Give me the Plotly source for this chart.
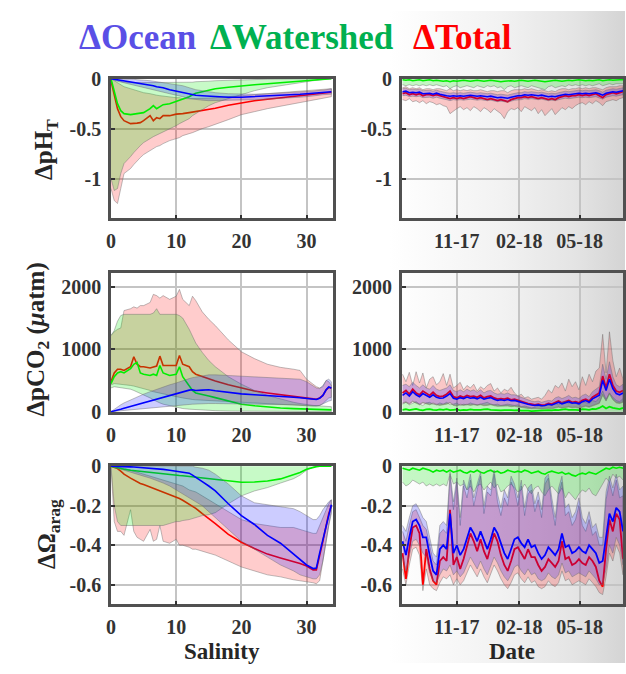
import base64
import pandas as pd
import plotly.graph_objects as go

# ---------------- salinity-binned composites (left column) ----------------
SAL = [0, 0.5, 1, 1.5, 2, 3, 3.5, 4, 4.5, 5, 6, 6.5, 7, 7.5, 8, 9, 10, 10.5, 11, 12,
       12.5, 13, 14, 15, 16, 18, 20, 22, 24, 26, 28, 29, 30, 31, 31.5, 32, 32.5, 33, 33.4, 33.8]

PH_OCEAN = [0, -0.005, -0.01, -0.015, -0.02, -0.03, -0.035, -0.04, -0.045, -0.05, -0.06, -0.07, -0.08, -0.085,
            -0.09, -0.11, -0.125, -0.125, -0.135, -0.15, -0.16, -0.165, -0.17, -0.175, -0.18, -0.185, -0.185,
            -0.18, -0.175, -0.17, -0.16, -0.155, -0.15, -0.145, -0.14, -0.14, -0.135, -0.135, -0.13, -0.13]
PH_OCEAN_HI = [0, 0, 0, 0, 0, -0.005, -0.005, -0.01, -0.01, -0.015, -0.02, -0.025, -0.03, -0.035, -0.04, -0.05,
               -0.06, -0.065, -0.07, -0.09, -0.1, -0.11, -0.12, -0.13, -0.14, -0.15, -0.155, -0.155, -0.15,
               -0.145, -0.14, -0.135, -0.13, -0.125, -0.12, -0.12, -0.115, -0.11, -0.105, -0.1]
PH_OCEAN_LO = [0, -0.015, -0.025, -0.035, -0.045, -0.06, -0.065, -0.075, -0.08, -0.09, -0.1, -0.11, -0.12, -0.13,
               -0.135, -0.15, -0.165, -0.17, -0.18, -0.2, -0.205, -0.21, -0.215, -0.22, -0.22, -0.22, -0.215,
               -0.21, -0.205, -0.2, -0.19, -0.185, -0.18, -0.175, -0.17, -0.165, -0.16, -0.16, -0.155, -0.155]
PH_WS = [0, -0.12, -0.25, -0.32, -0.35, -0.36, -0.355, -0.35, -0.345, -0.34, -0.3, -0.27, -0.3, -0.28, -0.26,
         -0.25, -0.225, -0.22, -0.2, -0.18, -0.16, -0.145, -0.13, -0.115, -0.1, -0.085, -0.07, -0.06, -0.05,
         -0.04, -0.03, -0.02, -0.015, -0.01, -0.008, -0.005, -0.003, -0.002, 0, 0]
PH_WS_HI = [0, -0.01, -0.02, -0.03, -0.035, -0.04, -0.04, -0.04, -0.04, -0.04, -0.04, -0.04, -0.04, -0.04,
            -0.04, -0.04, -0.04, -0.04, -0.04, -0.035, -0.035, -0.03, -0.03, -0.025, -0.02, -0.015, -0.01,
            -0.008, -0.005, -0.003, 0, 0, 0, 0, 0, 0, 0, 0, 0, 0]
PH_WS_LO = [-1.0, -1.12, -1.1, -0.95, -0.85, -0.78, -0.74, -0.7, -0.67, -0.64, -0.6, -0.58, -0.56, -0.55,
            -0.53, -0.5, -0.47, -0.45, -0.43, -0.4, -0.37, -0.35, -0.31, -0.27, -0.24, -0.2, -0.16, -0.12,
            -0.09, -0.07, -0.05, -0.04, -0.03, -0.02, -0.015, -0.01, -0.008, -0.005, -0.003, 0]
PH_TOT = [-0.02, -0.15, -0.3, -0.38, -0.42, -0.45, -0.45, -0.445, -0.44, -0.42, -0.37, -0.42, -0.39, -0.4,
          -0.37, -0.37, -0.355, -0.355, -0.35, -0.34, -0.335, -0.33, -0.32, -0.31, -0.295, -0.265, -0.24,
          -0.22, -0.205, -0.19, -0.175, -0.165, -0.16, -0.155, -0.15, -0.145, -0.145, -0.14, -0.135, -0.135]
PH_TOT_HI = [0, -0.02, -0.04, -0.06, -0.08, -0.1, -0.11, -0.12, -0.13, -0.14, -0.15, -0.16, -0.165, -0.17,
             -0.175, -0.18, -0.19, -0.19, -0.2, -0.2, -0.2, -0.2, -0.2, -0.195, -0.19, -0.18, -0.17, -0.16,
             -0.15, -0.14, -0.13, -0.125, -0.12, -0.115, -0.11, -0.11, -0.105, -0.1, -0.1, -0.1]
PH_TOT_LO = [-1.1, -1.22, -1.25, -1.1, -0.95, -0.9, -0.86, -0.82, -0.79, -0.76, -0.72, -0.7, -0.68, -0.67,
             -0.65, -0.62, -0.6, -0.59, -0.57, -0.55, -0.54, -0.53, -0.5, -0.48, -0.46, -0.41, -0.36, -0.33,
             -0.3, -0.27, -0.245, -0.235, -0.22, -0.21, -0.205, -0.2, -0.195, -0.19, -0.185, -0.18]

PCO2_OCEAN = [0, 10, 25, 40, 55, 85, 100, 115, 130, 145, 175, 190, 205, 220, 235, 265, 290, 305, 320, 345,
              350, 340, 345, 350, 335, 305, 285, 270, 260, 245, 230, 222, 210, 198, 195, 215, 260, 350, 395, 380]
PCO2_OCEAN_HI = [0, 40, 80, 110, 140, 190, 215, 240, 260, 280, 320, 340, 360, 380, 400, 430, 460, 480, 500,
                 530, 545, 555, 575, 590, 590, 580, 570, 560, 550, 540, 530, 520, 480, 420, 380, 370, 420,
                 500, 520, 480]
PCO2_OCEAN_LO = [0, 0, 5, 10, 15, 25, 30, 35, 40, 45, 55, 60, 65, 70, 75, 85, 95, 100, 105, 115, 120, 125,
                 130, 130, 130, 130, 130, 125, 120, 115, 110, 105, 100, 95, 90, 100, 120, 150, 170, 180]
PCO2_WS = [450, 560, 620, 640, 620, 690, 760, 790, 620, 600, 580, 600, 580, 740, 620, 580, 600, 720, 560,
           420, 340, 300, 270, 250, 225, 170, 120, 95, 72, 58, 48, 44, 40, 36, 34, 32, 30, 28, 28, 28]
PCO2_WS_HI = [1220, 1300, 1450, 1540, 1560, 1560, 1560, 1570, 1560, 1560, 1560, 1580, 1650, 1560, 1560,
              1560, 1560, 1540, 1500, 1320, 1200, 1100, 950, 820, 720, 560, 440, 340, 260, 200, 150, 130,
              110, 100, 95, 90, 85, 80, 80, 80]
PCO2_WS_LO = [380, 400, 400, 390, 380, 360, 340, 320, 300, 270, 220, 190, 160, 140, 120, 90, 70, 60, 50, 40,
              35, 30, 25, 20, 16, 10, 6, 4, 2, 0, 0, 0, 0, 0, 0, 0, 0, 0, 0, 0]
PCO2_TOT = [480, 620, 680, 680, 660, 720, 880, 760, 720, 720, 700, 720, 730, 890, 740, 740, 740, 900, 760,
            720, 640, 600, 560, 520, 490, 430, 380, 330, 300, 270, 240, 230, 215, 205, 200, 220, 260, 350,
            390, 375]
PCO2_TOT_HI = [1220, 1280, 1320, 1340, 1620, 1650, 1680, 1660, 1700, 1700, 1750, 1880, 1860, 1820, 1860,
               1800, 1850, 1960, 1800, 1700, 1850, 1780, 1600, 1480, 1380, 1150, 960, 850, 760, 710, 680,
               660, 520, 440, 400, 380, 400, 500, 480, 420]
PCO2_TOT_LO = [430, 450, 450, 440, 430, 420, 410, 400, 390, 370, 340, 320, 300, 290, 280, 260, 240, 230,
               220, 200, 195, 190, 180, 170, 165, 155, 145, 135, 125, 115, 105, 100, 95, 90, 90, 100, 130,
               180, 220, 230]

OM_OCEAN = [0, 0, 0, -0.001, -0.002, -0.003, -0.004, -0.005, -0.006, -0.007, -0.009, -0.01, -0.012, -0.014,
            -0.016, -0.02, -0.025, -0.028, -0.03, -0.035, -0.045, -0.055, -0.078, -0.1, -0.125, -0.19, -0.25,
            -0.295, -0.35, -0.39, -0.445, -0.475, -0.5, -0.518, -0.515, -0.44, -0.37, -0.3, -0.24, -0.195]
OM_OCEAN_HI = [0, 0, 0, 0, 0, 0, 0, 0, 0, 0, 0, 0, 0, 0, 0, 0, 0, 0, 0, 0, 0, -0.005, -0.01, -0.02, -0.04,
               -0.09, -0.15, -0.185, -0.195, -0.205, -0.215, -0.23, -0.25, -0.27, -0.27, -0.25, -0.22, -0.2,
               -0.18, -0.17]
OM_OCEAN_LO = [0, -0.005, -0.01, -0.015, -0.02, -0.03, -0.035, -0.04, -0.045, -0.05, -0.06, -0.065, -0.07,
               -0.078, -0.085, -0.1, -0.12, -0.13, -0.14, -0.16, -0.17, -0.18, -0.2, -0.23, -0.26, -0.32,
               -0.38, -0.42, -0.46, -0.5, -0.53, -0.55, -0.56, -0.57, -0.57, -0.55, -0.48, -0.38, -0.3, -0.24]
OM_WS = [0, -0.004, -0.008, -0.012, -0.015, -0.02, -0.022, -0.024, -0.026, -0.028, -0.03, -0.032, -0.034,
         -0.036, -0.038, -0.042, -0.045, -0.047, -0.048, -0.052, -0.054, -0.056, -0.06, -0.064, -0.068, -0.075,
         -0.081, -0.08, -0.075, -0.064, -0.045, -0.032, -0.015, -0.004, -0.002, 0, 0, 0, 0, 0]
OM_WS_LO = [0, -0.2, -0.28, -0.3, -0.3, -0.3, -0.3, -0.3, -0.3, -0.3, -0.3, -0.3, -0.3, -0.3, -0.3, -0.29,
            -0.28, -0.28, -0.275, -0.27, -0.265, -0.26, -0.25, -0.245, -0.235, -0.19, -0.15, -0.125, -0.108,
            -0.085, -0.063, -0.045, -0.02, -0.005, 0, 0, 0, 0, 0, 0]
OM_TOT = [0, -0.005, -0.012, -0.025, -0.04, -0.06, -0.07, -0.08, -0.087, -0.093, -0.106, -0.112, -0.118,
          -0.124, -0.13, -0.142, -0.155, -0.163, -0.172, -0.193, -0.203, -0.213, -0.24, -0.265, -0.29, -0.345,
          -0.385, -0.417, -0.445, -0.465, -0.483, -0.493, -0.505, -0.525, -0.525, -0.46, -0.38, -0.3, -0.24, -0.2]
OM_TOT_HI = [0, 0, -0.005, -0.008, -0.01, -0.02, -0.025, -0.03, -0.035, -0.04, -0.05, -0.055, -0.06, -0.065,
             -0.07, -0.08, -0.09, -0.095, -0.1, -0.12, -0.125, -0.13, -0.15, -0.17, -0.19, -0.23, -0.27, -0.29,
             -0.3, -0.31, -0.31, -0.32, -0.33, -0.34, -0.34, -0.3, -0.26, -0.22, -0.19, -0.17]
OM_TOT_LO = [0, -0.28, -0.33, -0.33, -0.35, -0.22, -0.33, -0.36, -0.37, -0.38, -0.32, -0.38, -0.37, -0.3,
             -0.38, -0.39, -0.37, -0.4, -0.4, -0.41, -0.42, -0.42, -0.43, -0.44, -0.45, -0.48, -0.51, -0.53,
             -0.55, -0.56, -0.575, -0.58, -0.585, -0.59, -0.595, -0.58, -0.5, -0.38, -0.3, -0.22]

# ---------------- time series (right column), 5-day steps ----------------
DATES = pd.date_range("2017-08-13", periods=66, freq="5D").strftime("%Y-%m-%d").tolist()

PH_R_OCEAN = [-0.13, -0.125, -0.14, -0.135, -0.14, -0.135, -0.15, -0.145, -0.145, -0.155, -0.145,
              -0.155, -0.165, -0.17, -0.175, -0.17, -0.175, -0.17, -0.175, -0.17, -0.165, -0.17,
              -0.175, -0.17, -0.175, -0.18, -0.175, -0.18, -0.19, -0.185, -0.19, -0.195, -0.185,
              -0.175, -0.17, -0.17, -0.16, -0.165, -0.16, -0.165, -0.17, -0.165, -0.17, -0.18,
              -0.175, -0.18, -0.17, -0.16, -0.155, -0.16, -0.155, -0.15, -0.145, -0.15, -0.145,
              -0.15, -0.145, -0.14, -0.15, -0.165, -0.145, -0.135, -0.13, -0.135, -0.125, -0.12]
PH_R_OCEAN_HI = [-0.1, -0.095, -0.11, -0.105, -0.11, -0.105, -0.12, -0.115, -0.115, -0.125, -0.115,
                 -0.125, -0.135, -0.14, -0.145, -0.14, -0.145, -0.14, -0.145, -0.14, -0.135, -0.14,
                 -0.145, -0.14, -0.145, -0.15, -0.145, -0.15, -0.16, -0.155, -0.16, -0.165, -0.155,
                 -0.145, -0.14, -0.14, -0.13, -0.135, -0.13, -0.135, -0.14, -0.135, -0.14, -0.15,
                 -0.145, -0.15, -0.14, -0.13, -0.125, -0.13, -0.125, -0.12, -0.115, -0.12, -0.115,
                 -0.12, -0.115, -0.11, -0.12, -0.135, -0.115, -0.105, -0.1, -0.105, -0.095, -0.09]
PH_R_OCEAN_LO = [-0.17, -0.165, -0.18, -0.175, -0.18, -0.175, -0.19, -0.185, -0.185, -0.195, -0.185,
                 -0.195, -0.205, -0.21, -0.22, -0.21, -0.215, -0.21, -0.215, -0.21, -0.205, -0.21,
                 -0.215, -0.21, -0.215, -0.22, -0.215, -0.22, -0.23, -0.225, -0.23, -0.235, -0.225,
                 -0.215, -0.21, -0.21, -0.2, -0.205, -0.2, -0.205, -0.21, -0.205, -0.21, -0.22,
                 -0.215, -0.22, -0.21, -0.2, -0.195, -0.2, -0.195, -0.19, -0.185, -0.19, -0.185,
                 -0.19, -0.185, -0.18, -0.19, -0.205, -0.185, -0.175, -0.17, -0.175, -0.165, -0.16]
PH_R_WS = [-0.01, -0.015, -0.01, -0.02, -0.015, -0.01, -0.02, -0.015, -0.01, -0.02, -0.015,
           -0.02, -0.025, -0.02, -0.03, -0.02, -0.025, -0.02, -0.015, -0.02, -0.025, -0.02,
           -0.015, -0.02, -0.025, -0.02, -0.015, -0.02, -0.025, -0.03, -0.025, -0.02, -0.02,
           -0.025, -0.02, -0.015, -0.02, -0.025, -0.02, -0.015, -0.02, -0.025, -0.03, -0.025,
           -0.02, -0.015, -0.02, -0.025, -0.02, -0.015, -0.02, -0.015, -0.01, -0.015, -0.02,
           -0.015, -0.02, -0.015, -0.01, -0.02, -0.015, -0.01, -0.015, -0.01, -0.01, -0.01]
PH_R_WS_LO = [-0.06, -0.07, -0.06, -0.07, -0.06, -0.07, -0.06, -0.07, -0.06, -0.07, -0.06,
              -0.07, -0.08, -0.07, -0.1, -0.08, -0.07, -0.09, -0.08, -0.07, -0.08, -0.09,
              -0.07, -0.08, -0.09, -0.07, -0.08, -0.07, -0.09, -0.08, -0.11, -0.08, -0.07,
              -0.09, -0.08, -0.07, -0.08, -0.09, -0.07, -0.08, -0.09, -0.1, -0.11, -0.08,
              -0.07, -0.09, -0.08, -0.07, -0.08, -0.06, -0.07, -0.06, -0.07, -0.06, -0.07,
              -0.06, -0.07, -0.06, -0.05, -0.07, -0.06, -0.05, -0.06, -0.05, -0.05, -0.05]
PH_R_TOT = [-0.15, -0.14, -0.16, -0.15, -0.16, -0.15, -0.17, -0.16, -0.16, -0.17, -0.16,
            -0.17, -0.18, -0.19, -0.2, -0.19, -0.2, -0.19, -0.2, -0.19, -0.18, -0.19,
            -0.2, -0.19, -0.2, -0.21, -0.2, -0.21, -0.22, -0.21, -0.22, -0.23, -0.21,
            -0.2, -0.19, -0.19, -0.18, -0.19, -0.18, -0.19, -0.2, -0.19, -0.2, -0.21,
            -0.2, -0.21, -0.19, -0.18, -0.17, -0.18, -0.17, -0.17, -0.16, -0.17, -0.16,
            -0.17, -0.16, -0.15, -0.17, -0.19, -0.16, -0.15, -0.14, -0.15, -0.14, -0.13]
PH_R_TOT_HI = [-0.09, -0.08, -0.1, -0.09, -0.1, -0.09, -0.11, -0.1, -0.1, -0.11, -0.1,
               -0.1, -0.11, -0.12, -0.1, -0.12, -0.11, -0.12, -0.11, -0.12, -0.11, -0.12,
               -0.12, -0.11, -0.12, -0.13, -0.12, -0.12, -0.13, -0.12, -0.12, -0.14, -0.12,
               -0.11, -0.11, -0.11, -0.1, -0.11, -0.1, -0.11, -0.12, -0.11, -0.12, -0.13,
               -0.12, -0.13, -0.11, -0.1, -0.1, -0.11, -0.1, -0.1, -0.09, -0.1, -0.09,
               -0.1, -0.09, -0.09, -0.1, -0.11, -0.09, -0.08, -0.08, -0.08, -0.07, -0.07]
PH_R_TOT_LO = [-0.21, -0.22, -0.2, -0.23, -0.22, -0.24, -0.22, -0.25, -0.23, -0.24, -0.26,
               -0.25, -0.27, -0.28, -0.35, -0.33, -0.3, -0.28, -0.31, -0.29, -0.32, -0.28,
               -0.3, -0.33, -0.29, -0.31, -0.34, -0.3, -0.32, -0.35, -0.4, -0.33, -0.3,
               -0.31, -0.29, -0.33, -0.28, -0.3, -0.32, -0.29, -0.35, -0.31, -0.37, -0.33,
               -0.3, -0.36, -0.32, -0.29, -0.31, -0.28, -0.3, -0.27, -0.25, -0.24, -0.26,
               -0.23, -0.25, -0.22, -0.24, -0.27, -0.23, -0.22, -0.21, -0.22, -0.2, -0.19]

PCO2_R_OCEAN = [260, 300, 250, 320, 270, 240, 290, 260, 230, 270, 230,
                215, 220, 250, 290, 215, 200, 225, 210, 235, 215, 225,
                205, 230, 200, 215, 225, 200, 180, 190, 180, 195, 175,
                180, 165, 145, 125, 118, 108, 100, 108, 95, 100, 118,
                108, 135, 150, 125, 142, 160, 135, 142, 125, 160, 178,
                150, 205, 230, 265, 500, 340, 520, 370, 290, 270, 300]
PCO2_R_OCEAN_HI = [420, 440, 400, 470, 420, 380, 430, 380, 360, 420, 360,
                   340, 360, 380, 430, 340, 320, 350, 320, 360, 330, 350,
                   310, 350, 300, 330, 340, 300, 280, 290, 280, 300, 270,
                   270, 250, 230, 200, 190, 170, 160, 170, 150, 160, 180,
                   170, 220, 240, 210, 230, 260, 220, 230, 210, 260, 280,
                   240, 320, 360, 400, 760, 520, 800, 560, 430, 400, 440]
PCO2_R_OCEAN_LO = [140, 160, 130, 170, 140, 120, 150, 130, 120, 140, 120,
                   110, 120, 130, 150, 110, 100, 120, 110, 120, 110, 120,
                   110, 120, 105, 110, 120, 105, 95, 100, 95, 100, 90,
                   95, 85, 75, 65, 60, 55, 50, 55, 50, 52, 60,
                   55, 70, 80, 65, 75, 85, 70, 75, 65, 85, 95,
                   80, 110, 120, 140, 280, 180, 300, 200, 150, 140, 160]
PCO2_R_WS = [30, 40, 25, 35, 45, 30, 20, 35, 40, 30, 25,
             35, 30, 40, 25, 30, 35, 20, 30, 25, 35, 30,
             25, 30, 35, 40, 30, 25, 30, 20, 25, 30, 25,
             20, 25, 15, 20, 15, 10, 15, 20, 15, 20, 25,
             20, 30, 25, 35, 40, 30, 35, 30, 25, 40, 35,
             30, 45, 40, 60, 90, 50, 80, 60, 45, 40, 60]
PCO2_R_WS_HI = [120, 150, 110, 140, 160, 120, 100, 140, 150, 120, 110,
                140, 120, 150, 110, 120, 140, 100, 120, 110, 140, 120,
                110, 120, 140, 150, 120, 110, 120, 100, 110, 120, 110,
                100, 110, 80, 90, 80, 60, 70, 90, 80, 90, 110,
                100, 130, 110, 150, 160, 130, 150, 130, 110, 160, 150,
                130, 180, 160, 220, 330, 200, 300, 230, 180, 160, 210]
PCO2_R_TOT = [300, 340, 280, 360, 300, 270, 330, 290, 260, 310, 260,
              240, 250, 280, 330, 240, 220, 250, 230, 260, 240, 250,
              230, 260, 220, 240, 250, 220, 200, 210, 200, 215, 190,
              200, 180, 160, 140, 130, 120, 110, 120, 105, 110, 130,
              120, 150, 170, 140, 160, 180, 150, 160, 140, 180, 200,
              170, 230, 260, 300, 570, 380, 600, 420, 330, 310, 340]
PCO2_R_TOT_HI = [600, 480, 630, 420, 640, 460, 620, 380, 520, 560, 430,
                 480, 610, 420, 600, 380, 420, 470, 350, 420, 380, 440,
                 330, 400, 360, 420, 450, 330, 380, 300, 360, 330, 390,
                 300, 250, 280, 220, 240, 200, 210, 230, 200, 260, 350,
                 300, 420, 380, 460, 330, 520, 400, 480, 350, 560, 420,
                 600, 480, 650, 700, 1240, 620, 1280, 820, 560, 700, 520]
PCO2_R_TOT_LO = [130, 150, 120, 160, 130, 110, 140, 120, 110, 130, 110,
                 100, 110, 120, 140, 100, 90, 110, 100, 110, 100, 110,
                 100, 110, 95, 100, 110, 95, 85, 90, 85, 90, 80,
                 85, 75, 65, 55, 50, 45, 40, 45, 40, 42, 50,
                 45, 60, 70, 55, 65, 75, 60, 65, 55, 75, 85,
                 70, 100, 110, 130, 260, 170, 280, 190, 140, 130, 150]

OM_R_OCEAN = [-0.38, -0.45, -0.36, -0.28, -0.27, -0.3, -0.36, -0.36, -0.45, -0.53, -0.55,
              -0.42, -0.4, -0.42, -0.24, -0.44, -0.4, -0.45, -0.42, -0.36, -0.31, -0.34,
              -0.38, -0.33, -0.38, -0.42, -0.37, -0.31, -0.34, -0.39, -0.44, -0.47, -0.42,
              -0.37, -0.36, -0.39, -0.41, -0.37, -0.41, -0.4, -0.44, -0.47, -0.45, -0.41,
              -0.43, -0.45, -0.42, -0.34, -0.41, -0.4, -0.44, -0.43, -0.41, -0.43, -0.44,
              -0.4, -0.42, -0.44, -0.49, -0.48, -0.36, -0.24, -0.28, -0.21, -0.23, -0.33]
OM_R_OCEAN_HI = [-0.3, -0.33, -0.26, -0.2, -0.19, -0.22, -0.26, -0.28, -0.36, -0.44, -0.46,
                 -0.3, -0.28, -0.3, -0.03, -0.18, -0.06, -0.26, -0.07, -0.12, -0.04, -0.16,
                 -0.09, -0.03, -0.2, -0.1, -0.12, -0.02, -0.14, -0.21, -0.12, -0.16, -0.05,
                 -0.09, -0.16, -0.07, -0.21, -0.11, -0.09, -0.19, -0.13, -0.22, -0.06, -0.04,
                 -0.16, -0.26, -0.11, -0.05, -0.21, -0.19, -0.26, -0.23, -0.16, -0.26, -0.29,
                 -0.23, -0.31, -0.29, -0.36, -0.36, -0.13, -0.05, -0.11, -0.04, -0.12, -0.1]
OM_R_OCEAN_LO = [-0.46, -0.53, -0.45, -0.38, -0.37, -0.4, -0.44, -0.46, -0.54, -0.58, -0.59,
                 -0.55, -0.52, -0.53, -0.5, -0.55, -0.53, -0.56, -0.54, -0.5, -0.46, -0.49,
                 -0.52, -0.48, -0.52, -0.55, -0.51, -0.46, -0.49, -0.53, -0.56, -0.58, -0.55,
                 -0.51, -0.5, -0.53, -0.55, -0.52, -0.55, -0.54, -0.57, -0.58, -0.57, -0.54,
                 -0.56, -0.57, -0.55, -0.49, -0.54, -0.53, -0.56, -0.55, -0.54, -0.55, -0.56,
                 -0.53, -0.55, -0.57, -0.6, -0.6, -0.52, -0.4, -0.44, -0.36, -0.4, -0.5]
OM_R_WS = [-0.01, -0.015, -0.02, -0.01, -0.015, -0.02, -0.01, -0.015, -0.02, -0.03, -0.02,
           -0.025, -0.02, -0.03, -0.02, -0.03, -0.025, -0.02, -0.03, -0.035, -0.025, -0.03,
           -0.02, -0.03, -0.035, -0.025, -0.02, -0.03, -0.025, -0.035, -0.03, -0.02, -0.025,
           -0.03, -0.025, -0.03, -0.02, -0.025, -0.035, -0.03, -0.025, -0.035, -0.04, -0.03,
           -0.025, -0.03, -0.035, -0.03, -0.04, -0.035, -0.045, -0.05, -0.04, -0.035, -0.04,
           -0.03, -0.035, -0.04, -0.03, -0.02, -0.01, -0.015, -0.005, -0.01, -0.005, -0.01]
OM_R_WS_LO = [-0.08, -0.1, -0.09, -0.07, -0.08, -0.09, -0.08, -0.1, -0.09, -0.1, -0.09,
              -0.1, -0.09, -0.1, -0.04, -0.09, -0.08, -0.1, -0.09, -0.12, -0.1, -0.13,
              -0.1, -0.09, -0.12, -0.1, -0.08, -0.11, -0.09, -0.13, -0.12, -0.1, -0.09,
              -0.11, -0.13, -0.12, -0.09, -0.12, -0.14, -0.11, -0.1, -0.13, -0.15, -0.12,
              -0.1, -0.12, -0.14, -0.11, -0.16, -0.13, -0.15, -0.17, -0.14, -0.12, -0.13,
              -0.11, -0.14, -0.15, -0.12, -0.09, -0.06, -0.08, -0.04, -0.06, -0.05, -0.07]
OM_R_TOT = [-0.44, -0.57, -0.42, -0.31, -0.3, -0.34, -0.6, -0.42, -0.52, -0.58, -0.6,
            -0.48, -0.46, -0.48, -0.22, -0.5, -0.46, -0.52, -0.47, -0.4, -0.34, -0.38,
            -0.43, -0.37, -0.43, -0.47, -0.41, -0.34, -0.38, -0.45, -0.5, -0.53, -0.48,
            -0.42, -0.41, -0.44, -0.47, -0.42, -0.46, -0.46, -0.5, -0.53, -0.51, -0.47,
            -0.49, -0.51, -0.48, -0.38, -0.47, -0.46, -0.5, -0.49, -0.47, -0.49, -0.5,
            -0.46, -0.48, -0.51, -0.58, -0.61, -0.42, -0.27, -0.33, -0.24, -0.27, -0.47]
OM_R_TOT_HI = [-0.33, -0.38, -0.3, -0.23, -0.22, -0.26, -0.3, -0.32, -0.4, -0.48, -0.5,
               -0.34, -0.32, -0.34, -0.05, -0.22, -0.08, -0.3, -0.1, -0.16, -0.07, -0.2,
               -0.12, -0.05, -0.24, -0.13, -0.15, -0.04, -0.18, -0.25, -0.16, -0.2, -0.08,
               -0.12, -0.2, -0.1, -0.25, -0.14, -0.12, -0.23, -0.17, -0.26, -0.09, -0.06,
               -0.2, -0.3, -0.14, -0.08, -0.25, -0.23, -0.3, -0.27, -0.2, -0.3, -0.33,
               -0.27, -0.35, -0.33, -0.4, -0.4, -0.17, -0.08, -0.15, -0.07, -0.16, -0.15]
OM_R_TOT_LO = [-0.52, -0.6, -0.5, -0.42, -0.41, -0.45, -0.63, -0.52, -0.6, -0.62, -0.63,
               -0.59, -0.56, -0.57, -0.55, -0.6, -0.57, -0.6, -0.58, -0.54, -0.5, -0.53,
               -0.56, -0.52, -0.56, -0.59, -0.55, -0.5, -0.53, -0.57, -0.6, -0.62, -0.59,
               -0.55, -0.54, -0.57, -0.59, -0.56, -0.59, -0.58, -0.61, -0.62, -0.61, -0.58,
               -0.6, -0.61, -0.59, -0.53, -0.58, -0.57, -0.6, -0.59, -0.58, -0.59, -0.6,
               -0.57, -0.59, -0.61, -0.64, -0.65, -0.56, -0.44, -0.48, -0.4, -0.44, -0.55]

# ---------------- styling ----------------
W, H = 626, 674
SERIF = "Liberation Serif, Times New Roman, serif"
C_OCEAN, C_WS, C_TOT = "#0000ff", "#00ee00", "#ff0000"
F_OCEAN, F_WS, F_TOT = "rgba(0,0,255,0.2)", "rgba(0,230,0,0.22)", "rgba(255,0,0,0.2)"
EDGE = "rgba(110,110,110,0.75)"

COL_X = [(107, 331.5), (400.7, 624)]
ROW_Y = [(70, 214.5), (271, 414.5), (470, 613.5)]


def xdom(c):
    a, b = COL_X[c]
    return [a / W, b / W]


def ydom(r):
    t, b = ROW_Y[r]
    return [1 - b / H, 1 - t / H]


fig = go.Figure()


def add_band(x, lo, hi, color, ax):
    xs = list(x) + list(x)[::-1]
    ys = list(hi) + list(lo)[::-1]
    fig.add_trace(go.Scatter(x=xs, y=ys, fill="toself", fillcolor=color, mode="lines",
                             line=dict(color=EDGE, width=0.6), hoverinfo="skip",
                             showlegend=False, xaxis=ax[0], yaxis=ax[1]))


def add_zero_band(x, edge, color, ax):
    fig.add_trace(go.Scatter(x=list(x), y=list(edge), fill="tozeroy", fillcolor=color, mode="lines",
                             line=dict(color=EDGE, width=0.6), hoverinfo="skip",
                             showlegend=False, xaxis=ax[0], yaxis=ax[1]))


def add_line(x, y, color, ax, width):
    fig.add_trace(go.Scatter(x=list(x), y=list(y), mode="lines", line=dict(color=color, width=width),
                             hoverinfo="skip", showlegend=False, xaxis=ax[0], yaxis=ax[1]))


def axes(k):
    s = "" if k == 1 else str(k)
    return ("x" + s, "y" + s)


# panel numbering: 1 pH/sal, 2 pH/date, 3 pCO2/sal, 4 pCO2/date, 5 Omega/sal, 6 Omega/date
ax = axes(1)
add_band(SAL, PH_TOT_LO, PH_TOT_HI, F_TOT, ax)
add_line(SAL, PH_TOT, C_TOT, ax, 1.6)
add_band(SAL, PH_WS_LO, PH_WS_HI, F_WS, ax)
add_line(SAL, PH_WS, C_WS, ax, 1.6)
add_band(SAL, PH_OCEAN_LO, PH_OCEAN_HI, F_OCEAN, ax)
add_line(SAL, PH_OCEAN, C_OCEAN, ax, 1.6)

ax = axes(2)
add_band(DATES, PH_R_TOT_LO, PH_R_TOT_HI, F_TOT, ax)
add_line(DATES, PH_R_TOT, C_TOT, ax, 1.8)
add_zero_band(DATES, PH_R_WS_LO, F_WS, ax)
add_line(DATES, PH_R_WS, C_WS, ax, 1.6)
add_band(DATES, PH_R_OCEAN_LO, PH_R_OCEAN_HI, F_OCEAN, ax)
add_line(DATES, PH_R_OCEAN, C_OCEAN, ax, 1.6)

ax = axes(3)
add_band(SAL, PCO2_TOT_LO, PCO2_TOT_HI, F_TOT, ax)
add_line(SAL, PCO2_TOT, C_TOT, ax, 1.6)
add_band(SAL, PCO2_WS_LO, PCO2_WS_HI, F_WS, ax)
add_line(SAL, PCO2_WS, C_WS, ax, 1.6)
add_band(SAL, PCO2_OCEAN_LO, PCO2_OCEAN_HI, F_OCEAN, ax)
add_line(SAL, PCO2_OCEAN, C_OCEAN, ax, 1.6)

ax = axes(4)
add_band(DATES, PCO2_R_TOT_LO, PCO2_R_TOT_HI, F_TOT, ax)
add_line(DATES, PCO2_R_TOT, C_TOT, ax, 1.8)
add_zero_band(DATES, PCO2_R_WS_HI, F_WS, ax)
add_line(DATES, PCO2_R_WS, C_WS, ax, 1.8)
add_band(DATES, PCO2_R_OCEAN_LO, PCO2_R_OCEAN_HI, F_OCEAN, ax)
add_line(DATES, PCO2_R_OCEAN, C_OCEAN, ax, 1.6)

ax = axes(5)
add_band(SAL, OM_TOT_LO, OM_TOT_HI, F_TOT, ax)
add_line(SAL, OM_TOT, C_TOT, ax, 1.6)
add_zero_band(SAL, OM_WS_LO, F_WS, ax)
add_line(SAL, OM_WS, C_WS, ax, 1.6)
add_band(SAL, OM_OCEAN_LO, OM_OCEAN_HI, F_OCEAN, ax)
add_line(SAL, OM_OCEAN, C_OCEAN, ax, 1.6)

ax = axes(6)
add_band(DATES, OM_R_TOT_LO, OM_R_TOT_HI, F_TOT, ax)
add_line(DATES, OM_R_TOT, C_TOT, ax, 1.8)
add_zero_band(DATES, OM_R_WS_LO, F_WS, ax)
add_line(DATES, OM_R_WS, C_WS, ax, 1.6)
add_band(DATES, OM_R_OCEAN_LO, OM_R_OCEAN_HI, F_OCEAN, ax)
add_line(DATES, OM_R_OCEAN, C_OCEAN, ax, 1.8)

TICKFONT = dict(family=SERIF, size=20, color="#333333", weight="bold")
common = dict(showline=True, mirror=True, linecolor="#505050", linewidth=2.5, ticks="inside",
              ticklen=4, tickcolor="#333333", tickwidth=1.5, showgrid=True, gridcolor="#c4c4c4",
              gridwidth=2, zeroline=False, tickfont=TICKFONT)

SAL_TICKS = [0, 10, 20, 30]
DATE_TICKS = ["2017-11-01", "2018-02-01", "2018-05-01"]
DATE_TEXT = ["11-17", "02-18", "05-18"]
Y_SPECS = [
    dict(range=[-1.4, 0], tickvals=[0, -0.5, -1], ticktext=["0", "-0.5", "-1"]),
    dict(range=[-5, 2220], tickvals=[0, 1000, 2000], ticktext=["0", "1000", "2000"]),
    dict(range=[-0.7, 0.003], tickvals=[0, -0.2, -0.4, -0.6], ticktext=["0", "-0.2", "-0.4", "-0.6"]),
]

layout = dict(width=W, height=H, autosize=False, margin=dict(l=0, r=0, t=0, b=0),
              paper_bgcolor="white", plot_bgcolor="rgba(0,0,0,0)", showlegend=False)
for r in range(3):
    for c in range(2):
        k = r * 2 + c + 1
        s = "" if k == 1 else str(k)
        if c == 0:
            xa = dict(domain=xdom(0), range=[0, 34.1], tickvals=SAL_TICKS,
                      ticktext=[str(v) for v in SAL_TICKS], anchor="y" + s, ticklabelstandoff=3, **common)
        else:
            xa = dict(domain=xdom(1), type="date", range=["2017-08-12", "2018-07-04"], tickvals=DATE_TICKS,
                      ticktext=DATE_TEXT, anchor="y" + s, ticklabelstandoff=3, **common)
        ya = dict(domain=ydom(r), anchor="x" + s, ticklabelstandoff=3, **Y_SPECS[r], **common)
        layout["xaxis" + s] = xa
        layout["yaxis" + s] = ya

# soft grey shading across the right-hand side of the figure
svg = ("<svg xmlns='http://www.w3.org/2000/svg' width='626' height='674' viewBox='0 0 626 674' "
       "preserveAspectRatio='none'><defs><linearGradient id='g' x1='0' y1='0' x2='1' y2='0'>"
       "<stop offset='0' stop-color='#ffffff'/><stop offset='0.62' stop-color='#ffffff'/>"
       "<stop offset='0.8' stop-color='#f2f2f2'/><stop offset='0.92' stop-color='#e4e4e4'/>"
       "<stop offset='1' stop-color='#d4d4d4'/></linearGradient></defs>"
       "<rect width='626' height='674' fill='url(#g)'/></svg>")
layout["images"] = [dict(source="data:image/svg+xml;base64," + base64.b64encode(svg.encode()).decode(),
                         xref="paper", yref="paper", x=0, y=1, sizex=1, sizey=1, xanchor="left",
                         yanchor="top", sizing="stretch", layer="below")]


def note(text, x, y, size, color="#262626", angle=0):
    return dict(text=text, x=x / W, y=1 - y / H, xref="paper", yref="paper", showarrow=False,
                xanchor="center", yanchor="middle", textangle=angle,
                font=dict(family=SERIF, size=size, color=color, weight="bold"))


layout["annotations"] = [
    note("ΔOcean", 134, 27, 35, "#5a4fe6"),
    note("ΔWatershed", 300, 27, 35, "#00b050"),
    note("ΔTotal", 462, 27, 35, "#ff0000"),
    note("ΔpH<sub>T</sub>", 41, 143, 25, angle=-90),
    note("ΔpCO<sub>2</sub> (<i>μ</i>atm)", 33, 340, 25, angle=-90),
    note("ΔΩ<sub>arag</sub>", 44, 541, 25, angle=-90),
    note("Salinity", 219, 662, 23),
    note("Date", 512, 662, 23),
]

fig.update_layout(**layout)
fig.write_html("out.html")
